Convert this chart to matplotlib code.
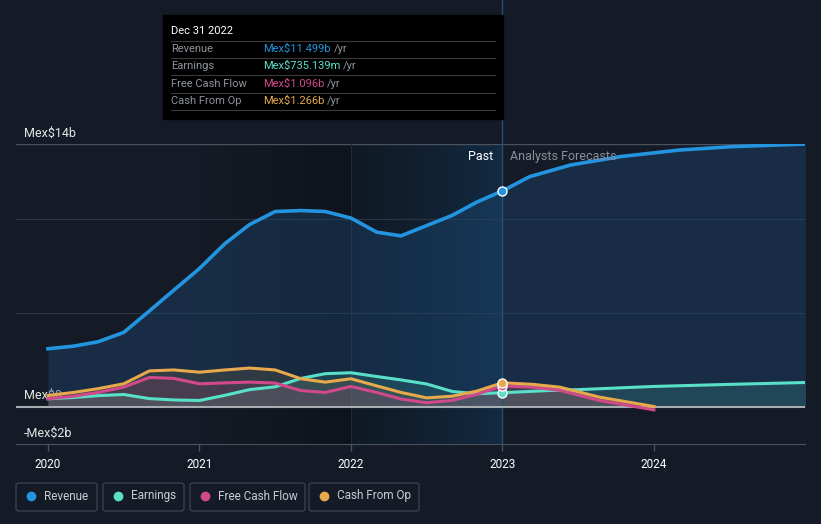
import numpy as np
import matplotlib.pyplot as plt
from matplotlib.patches import FancyBboxPatch, Rectangle

plt.rcParams['font.family'] = ['Roboto', 'DejaVu Sans']

# ---------- data (Mex$ billions, fractional years) ----------
past_t = [2020.0, 2020.17, 2020.33, 2020.5, 2020.67, 2020.83, 2021.0,
          2021.17, 2021.33, 2021.5, 2021.67, 2021.83, 2022.0,
          2022.17, 2022.33, 2022.5, 2022.67, 2022.83, 2023.0]
revenue = [3.08, 3.22, 3.45, 3.95, 5.1, 6.2, 7.36, 8.7, 9.7, 10.4, 10.45, 10.4,
           10.05, 9.3, 9.1, 9.65, 10.2, 10.9, 11.499]
earnings = [0.41, 0.48, 0.58, 0.64, 0.42, 0.35, 0.32, 0.6, 0.9, 1.05, 1.5, 1.75,
            1.8, 1.6, 1.42, 1.2, 0.8, 0.68, 0.735]
fcf = [0.41, 0.55, 0.75, 1.03, 1.55, 1.5, 1.21, 1.26, 1.3, 1.25, 0.85, 0.75,
       1.07, 0.75, 0.4, 0.2, 0.33, 0.65, 1.096]
cfo = [0.59, 0.75, 0.95, 1.21, 1.9, 1.95, 1.83, 1.95, 2.05, 1.95, 1.48, 1.3,
       1.48, 1.1, 0.75, 0.46, 0.55, 0.82, 1.266]

rev_fc_t = [2023.0, 2023.18, 2023.45, 2023.78, 2024.17, 2024.52, 2025.0]
rev_fc = [11.499, 12.26, 12.88, 13.33, 13.68, 13.86, 14.0]
earn_fc_t = [2023.0, 2023.3, 2023.5, 2024.0, 2024.5, 2025.0]
earn_fc = [0.735, 0.85, 0.9, 1.07, 1.18, 1.28]
cash_fc_t = [2023.0, 2023.2, 2023.38, 2023.64, 2024.0]
fcf_fc = [1.096, 1.03, 0.86, 0.32, -0.18]
cfo_fc = [1.266, 1.18, 1.03, 0.5, 0.0]

year_ticks = [2020, 2021, 2022, 2023, 2024]
names = ["Revenue", "Earnings", "Free Cash Flow", "Cash From Op"]
colors = ["#2394df", "#58e0c9", "#d1498b", "#e8a94d"]
tooltip_vals = ["Mex$11.499b", "Mex$735.139m", "Mex$1.096b", "Mex$1.266b"]

BG = "#151b26"
W, H = 821, 524

fig = plt.figure(figsize=(W / 100, H / 100), dpi=100, facecolor=BG)
ax = fig.add_axes([16 / W, (H - 444) / H, (805 - 16) / W, 300 / H])
ax.set_facecolor(BG)


def hgradient(x0, x1, c0, c1, a0, a1, z):
    n = 256
    f = np.linspace(0, 1, n)
    img = np.zeros((1, n, 4))
    for k in range(3):
        img[0, :, k] = c0[k] + (c1[k] - c0[k]) * f
    img[0, :, 3] = a0 + (a1 - a0) * f
    ax.imshow(img, extent=[x0, x1, -2, 14], aspect="auto", zorder=z,
              interpolation="bilinear")


# ---------- background regions ----------
hgradient(2021.0, 2022.0, (0.04, 0.05, 0.07), (0.04, 0.05, 0.07), 0.0, 0.55, 0.5)
hgradient(2022.0, 2023.0, (0.05, 0.09, 0.14), (0.07, 0.20, 0.32), 0.5, 0.65, 0.5)
ax.set_xlim(2019.789, 2024.997)
ax.set_ylim(-2, 14)

for g in [5, 10]:
    ax.axhline(g, color="#2a3442", lw=0.8, zorder=1)
ax.axhline(14, color="#4a525e", lw=1, zorder=1)
ax.axvline(2022.0, color="#1f2b3a", lw=0.8, zorder=1)

# ---------- fills ----------
all_t = past_t + rev_fc_t[1:]
all_rev = revenue + rev_fc[1:]
ax.fill_between(all_t, all_rev, 0, color="#1d4a75", alpha=0.4, lw=0, zorder=2)
ax.fill_between(past_t + earn_fc_t[1:], earnings + earn_fc[1:], 0,
                color=colors[1], alpha=0.14, lw=0, zorder=2)
ax.fill_between(past_t + cash_fc_t[1:], cfo + cfo_fc[1:], 0,
                color=colors[3], alpha=0.12, lw=0, zorder=2)
ax.fill_between(past_t + cash_fc_t[1:], fcf + fcf_fc[1:], 0,
                color=colors[2], alpha=0.14, lw=0, zorder=2)

# ---------- axis labels (behind the lines) ----------
ax.text(2019.84, 14.25, "Mex$14b", color="#e6e6e6", fontsize=9, va="bottom", zorder=1)
ax.text(2019.84, 0.25, "Mex$0", color="#e6e6e6", fontsize=9, va="bottom", zorder=1)
ax.text(2019.84, -1.75, "-Mex$2b", color="#e6e6e6", fontsize=9, va="bottom", zorder=1)

# ---------- lines ----------
ax.plot(past_t + earn_fc_t[1:], earnings + earn_fc[1:], color=colors[1], lw=2.2,
        zorder=3, solid_joinstyle="round")
ax.plot(past_t + cash_fc_t[1:], fcf + fcf_fc[1:], color=colors[2], lw=2.2,
        zorder=4, solid_joinstyle="round")
ax.plot(past_t + cash_fc_t[1:], cfo + cfo_fc[1:], color=colors[3], lw=2.2,
        zorder=5, solid_joinstyle="round")
ax.plot(all_t, all_rev, color=colors[0], lw=2.6, zorder=6, solid_joinstyle="round")

ax.axhline(0, color="#a8acb3", lw=1.5, zorder=2.5)

# vertical marker line at the last actual
ax.plot([2023.0, 2023.0], [-2, 30.8], color="#25507a", lw=1, zorder=2, clip_on=False)

for v, c in zip([revenue[-1], earnings[-1], fcf[-1], cfo[-1]], colors):
    ax.plot(2023.0, v, "o", ms=6.5, mfc=c, mec="white", mew=1, zorder=8)

ax.text(2022.94, 13.35, "Past", color="white", fontsize=9, ha="right", va="center", zorder=7)
ax.text(2023.05, 13.35, "Analysts Forecasts", color="#8a9099", fontsize=9,
        ha="left", va="center", zorder=7)

# ---------- x axis ----------
ax.set_yticks([])
ax.set_xticks(year_ticks)
ax.set_xticklabels([str(y) for y in year_ticks], color="white", fontsize=8.5)
ax.tick_params(axis="x", colors="#4a525e", length=5, width=1, pad=5, labelcolor="white")
for s in ["top", "left", "right"]:
    ax.spines[s].set_visible(False)
ax.spines["bottom"].set_color("#4a525e")

# ---------- tooltip ----------
fig.patches.append(Rectangle((163 / W, 1 - 119 / H), 340 / W, 104 / H,
                             transform=fig.transFigure, color="#000000", zorder=10))
fig.text(171 / W, 1 - 31 / H, "Dec 31 2022", color="white", fontsize=8, va="center", zorder=11)
renderer = fig.canvas.get_renderer()
row_y = [49, 66, 84, 101]
for i, (n, val, c) in enumerate(zip(names, tooltip_vals, colors)):
    yy = 1 - row_y[i] / H
    fig.text(171 / W, yy, n, color="#8e939b", fontsize=8, va="center", zorder=11)
    tv = fig.text(263 / W, yy, val, color=c, fontsize=8, va="center", zorder=11)
    bb = tv.get_window_extent(renderer)
    fig.text(bb.x1 / W + 3 / W, yy, "/yr", color="#8e939b", fontsize=8, va="center", zorder=11)
for ly in [41, 58, 75, 93, 110]:
    fig.add_artist(plt.Line2D([171 / W, 495 / W], [1 - ly / H, 1 - ly / H],
                              color="#3a3a3a", lw=0.8, zorder=11))

# ---------- legend ----------
boxes = [(16, 97), (103, 184), (190, 305), (309, 419)]
for (x0, x1), n, c in zip(boxes, names, colors):
    fig.patches.append(FancyBboxPatch((x0 / W, 1 - 511 / H), (x1 - x0) / W, 28 / H,
                                      boxstyle="round,pad=0,rounding_size=0.004",
                                      transform=fig.transFigure, fc=BG,
                                      ec="#3a404b", lw=1))
    fig.add_artist(plt.Line2D([(x0 + 15) / W], [1 - 496 / H], marker="o", ms=6,
                              color=c, lw=0))
    fig.text((x0 + 28) / W, 1 - 496 / H, n, color="#c9ccd1", fontsize=8.5, va="center")

fig.savefig("out.png", dpi=100, facecolor=BG)
